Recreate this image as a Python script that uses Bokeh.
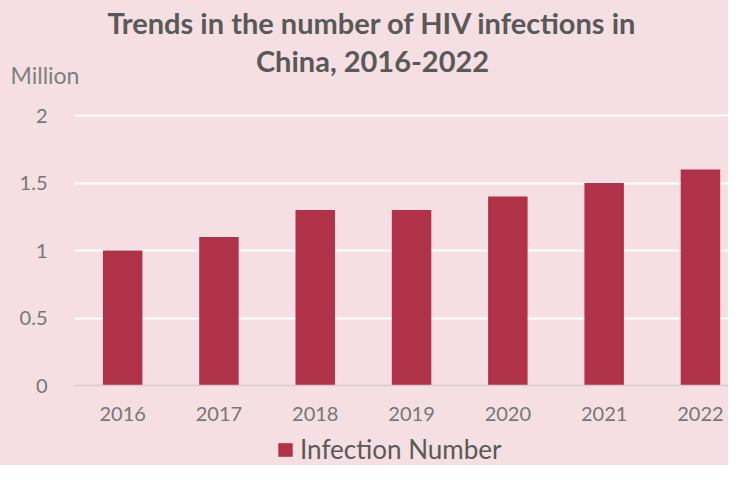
from bokeh.plotting import figure
from bokeh.models import Range1d, FixedTicker, Legend, LegendItem, ColumnDataSource
from bokeh.layouts import column
from bokeh.core.properties import value
from bokeh.embed import file_html
from bokeh.resources import INLINE

years = ["2016", "2017", "2018", "2019", "2020", "2021", "2022"]
infections = [1.0, 1.1, 1.3, 1.3, 1.4, 1.5, 1.6]
y_ticks = [0, 0.5, 1, 1.5, 2]
y_tick_labels = ["0", "0.5", "1", "1.5", "2"]
series_name = "Infection Number"
title_lines = ["Trends in the number of HIV infections in", "China, 2016-2022"]
unit_label = "Million"

BG = "#f6dfe3"
BAR = "#b03248"
FONT = "Lato"
W = 728
PAD_TOP = 18
TOP_H = 111 - PAD_TOP
FRAME_H = 274
MAIN_H = PAD_TOP + FRAME_H + 43
LEG_H = 465 - TOP_H - MAIN_H
LEFT = 74


def bare(h, xr, yr):
    f = figure(width=W, height=h, output_backend="svg", toolbar_location=None,
               x_range=xr, y_range=yr, x_axis_location=None, y_axis_location=None,
               min_border=0, frame_align=False,
               background_fill_alpha=0, border_fill_color=BG, outline_line_color=None)
    f.xgrid.visible = False
    f.ygrid.visible = False
    return f


# ---- header (title + unit) ----
head = bare(TOP_H, Range1d(0, W), Range1d(0, TOP_H))
head.text(x=[372], y=[TOP_H - 22], text=[title_lines[0]], text_align="center", text_baseline="middle",
          text_font=value(FONT), text_font_style="bold", text_font_size="29px", text_color="#595959")
head.text(x=[372], y=[TOP_H - 60], text=[title_lines[1]], text_align="center", text_baseline="middle",
          text_font=value(FONT), text_font_style="bold", text_font_size="29px", text_color="#595959")
head.text(x=[10], y=[TOP_H - 74], text=[unit_label], text_align="left", text_baseline="middle",
          text_font=value(FONT), text_font_size="23px", text_color="#7f7f7f")

# ---- main chart ----
xs = list(range(len(years)))
src = ColumnDataSource(dict(x=xs, top=infections))
p = figure(width=W, height=MAIN_H, output_backend="svg", toolbar_location=None,
           x_range=Range1d(-0.5, -0.5 + (W - LEFT) / 96.3), y_range=Range1d(0, 2.03),
           min_border_left=LEFT, min_border_right=0, min_border_top=PAD_TOP,
           min_border_bottom=MAIN_H - FRAME_H - PAD_TOP, frame_align=False,
           background_fill_alpha=0, border_fill_color=BG, outline_line_color=None)
r = p.vbar(x="x", top="top", bottom=0, width=0.41, source=src, fill_color=BAR, line_color=None)

p.xaxis.ticker = FixedTicker(ticks=xs)
p.xaxis.major_label_overrides = {i: y for i, y in enumerate(years)}
p.yaxis.ticker = FixedTicker(ticks=y_ticks)
p.yaxis.major_label_overrides = {t: l for t, l in zip(y_ticks, y_tick_labels)}
for ax in (p.xaxis, p.yaxis):
    ax.major_tick_line_color = None
    ax.minor_tick_line_color = None
    ax.major_label_text_font = FONT
    ax.major_label_text_font_size = "20px"
    ax.major_label_text_color = "#767676"
p.xaxis.axis_line_color = "#d4cdd0"
p.xaxis.axis_line_width = 1.5
p.xaxis.major_label_standoff = 15
p.yaxis.axis_line_color = None
p.yaxis.major_label_standoff = 21
p.xgrid.grid_line_color = None
p.ygrid.grid_line_color = "white"
p.ygrid.grid_line_width = 2

# ---- legend strip ----
leg = bare(LEG_H, Range1d(0, 1), Range1d(0, 1))
swatch = leg.vbar(x="x", top="top", width=0.41, source=src, fill_color=BAR, line_color=None, visible=False)
legend = Legend(items=[LegendItem(label=series_name, renderers=[swatch])], orientation="horizontal",
                location=(276, 0), background_fill_alpha=0, border_line_color=None,
                inactive_fill_alpha=0,
                label_text_font=FONT, label_text_font_size="26px", label_text_color="#595959",
                glyph_width=18, glyph_height=17, label_standoff=6, padding=1, margin=0)
leg.add_layout(legend)

layout = column(head, p, leg, spacing=0, styles={"background-color": BG})
open("out.html", "w").write(file_html(layout, INLINE))
